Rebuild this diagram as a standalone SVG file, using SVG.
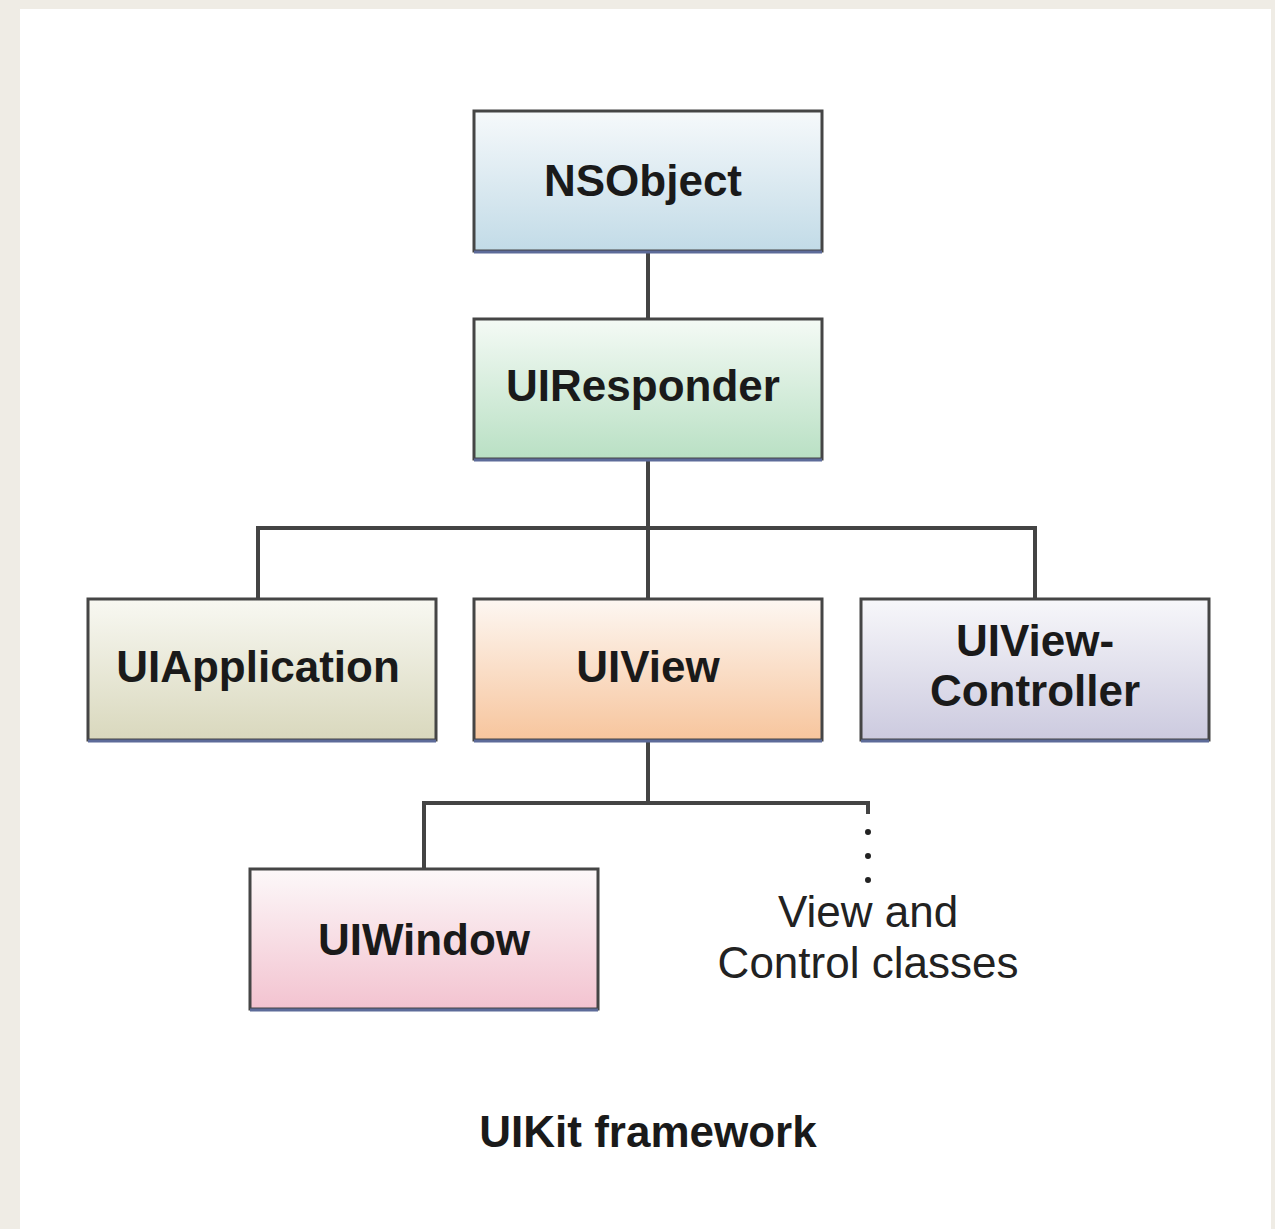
<svg xmlns="http://www.w3.org/2000/svg" width="1275" height="1229" viewBox="0 0 1275 1229">
<defs>
<linearGradient id="gBlue" x1="0" y1="0" x2="0" y2="1"><stop offset="0" stop-color="#f6f9fb"/><stop offset="1" stop-color="#c2dbe7"/></linearGradient>
<linearGradient id="gGreen" x1="0" y1="0" x2="0" y2="1"><stop offset="0" stop-color="#f4faf5"/><stop offset="1" stop-color="#b9e0c4"/></linearGradient>
<linearGradient id="gOlive" x1="0" y1="0" x2="0" y2="1"><stop offset="0" stop-color="#f8f8f2"/><stop offset="1" stop-color="#d9d8bd"/></linearGradient>
<linearGradient id="gPeach" x1="0" y1="0" x2="0" y2="1"><stop offset="0" stop-color="#fdf7f2"/><stop offset="1" stop-color="#f7c59d"/></linearGradient>
<linearGradient id="gLav" x1="0" y1="0" x2="0" y2="1"><stop offset="0" stop-color="#f7f7fa"/><stop offset="1" stop-color="#cccadf"/></linearGradient>
<linearGradient id="gPink" x1="0" y1="0" x2="0" y2="1"><stop offset="0" stop-color="#fcf8f9"/><stop offset="1" stop-color="#f3c3d0"/></linearGradient>
</defs>
<style>
.box{stroke:#454545;stroke-width:3}
.shadow{stroke:#5d6b99;stroke-width:3}
.lbl{font-family:"Liberation Sans",Arial,sans-serif;font-weight:bold;font-size:44px;fill:#1a1a1a;text-anchor:middle}
.note{font-family:"Liberation Sans",Arial,sans-serif;font-size:44px;fill:#222;text-anchor:middle}
.ln{stroke:#444;stroke-width:4;fill:none}
</style>
<rect x="0" y="0" width="1275" height="1229" fill="#efece5"/>
<rect x="20" y="9" width="1251" height="1220" fill="#ffffff"/>
<g id="connectors">
<path class="ln" d="M648 251V319M648 459V599M258 599V528H1035V599"/>
<path class="ln" d="M648 740V803M424 869V803H868V814"/>
<path d="M868 832V882" stroke="#222" stroke-width="6" stroke-linecap="round" stroke-dasharray="0 24" fill="none"/>
</g>
<g id="nsobject"><rect class="box" x="474" y="111" width="348" height="140" fill="url(#gBlue)"/><line class="shadow" x1="474" y1="252" x2="822" y2="252"/><text class="lbl" x="643" y="196">NSObject</text></g>
<g id="uiresponder"><rect class="box" x="474" y="319" width="348" height="140" fill="url(#gGreen)"/><line class="shadow" x1="474" y1="460" x2="822" y2="460"/><text class="lbl" x="643" y="401">UIResponder</text></g>
<g id="uiapplication"><rect class="box" x="88" y="599" width="348" height="141" fill="url(#gOlive)"/><line class="shadow" x1="88" y1="741" x2="436" y2="741"/><text class="lbl" x="258" y="682">UIApplication</text></g>
<g id="uiview"><rect class="box" x="474" y="599" width="348" height="141" fill="url(#gPeach)"/><line class="shadow" x1="474" y1="741" x2="822" y2="741"/><text class="lbl" x="648" y="682">UIView</text></g>
<g id="uiviewcontroller"><rect class="box" x="861" y="599" width="348" height="141" fill="url(#gLav)"/><line class="shadow" x1="861" y1="741" x2="1209" y2="741"/><text class="lbl" x="1035" y="656">UIView-</text><text class="lbl" x="1035" y="706">Controller</text></g>
<g id="uiwindow"><rect class="box" x="250" y="869" width="348" height="140" fill="url(#gPink)"/><line class="shadow" x1="250" y1="1010" x2="598" y2="1010"/><text class="lbl" x="424" y="955">UIWindow</text></g>
<g id="viewcontrol"><text class="note" x="868" y="927">View and</text><text class="note" x="868" y="978">Control classes</text></g>
<g id="caption"><text class="lbl" x="648" y="1147" font-size="42">UIKit framework</text></g>
</svg>
